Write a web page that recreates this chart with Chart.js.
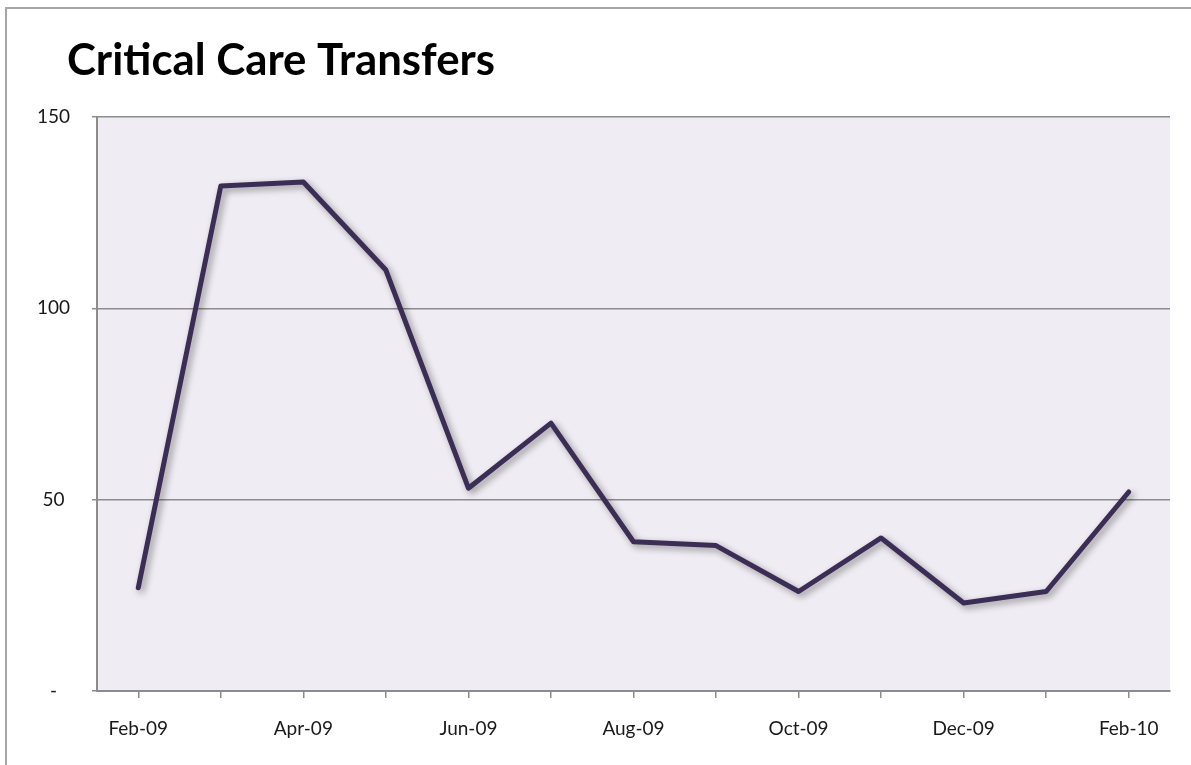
<!DOCTYPE html>
<html>
<head>
<meta charset="utf-8">
<script src="https://cdn.jsdelivr.net/npm/chart.js@4/dist/chart.umd.min.js"></script>
<style>
  html, body { margin: 0; padding: 0; background: #fff; overflow: hidden; }
  #frame { position: absolute; left: 5px; top: 7px; width: 1300px; height: 900px; border: 2px solid #a6a6a6; }
  #wrap { position: absolute; left: 0; top: 0; width: 1191px; height: 765px; }
</style>
</head>
<body>
<div id="frame"></div>
<div id="wrap"><canvas id="transfersChart" width="1191" height="765"></canvas></div>
<script>
// Monthly critical care transfers
const months = ["Feb-09", "Mar-09", "Apr-09", "May-09", "Jun-09", "Jul-09", "Aug-09",
  "Sep-09", "Oct-09", "Nov-09", "Dec-09", "Jan-10", "Feb-10"];
const transfers = [27, 132, 133, 110, 53, 70, 39, 38, 26, 40, 23, 26, 52];
const yTicks = [0, 50, 100, 150];
const chartTitle = "Critical Care Transfers";

// Plot background + title drawn on the canvas
const decorPlugin = {
  id: "decor",
  beforeDraw(chart) {
    const { ctx, chartArea } = chart;
    ctx.save();
    ctx.fillStyle = "#efedf3";
    ctx.fillRect(chartArea.left, chartArea.top, chartArea.right - chartArea.left, chartArea.bottom - chartArea.top);
    ctx.restore();
  },
  afterDraw(chart) {
    const ctx = chart.ctx;
    ctx.save();
    ctx.font = "bold 40px Lato";
    const w = ctx.measureText(chartTitle).width;
    const size = 40 * 428 / w;
    ctx.font = "bold " + size + "px Lato";
    ctx.fillStyle = "#000";
    ctx.textBaseline = "alphabetic";
    ctx.fillText(chartTitle, 67, 75);
    ctx.restore();
  },
  beforeDatasetsDraw(chart) {
    const ctx = chart.ctx;
    ctx.save();
    ctx.shadowColor = "rgba(0, 0, 0, 0.4)";
    ctx.shadowBlur = 7;
    ctx.shadowOffsetX = 3;
    ctx.shadowOffsetY = 3;
  },
  afterDatasetsDraw(chart) {
    chart.ctx.restore();
  }
};

const ctx = document.getElementById("transfersChart").getContext("2d");
const transfersChart = new Chart(ctx, {
  type: "line",
  data: {
    labels: months,
    datasets: [
      {
        label: "Transfers",
        data: transfers,
        borderColor: "#3b2d55",
        borderWidth: 5,
        borderJoinStyle: "round",
        borderCapStyle: "round",
        pointRadius: 0,
        tension: 0,
        fill: false
      }
    ]
  },
  options: {
    responsive: false,
    animation: false,
    layout: { padding: { top: 117, right: 21, left: 0, bottom: 0 } },
    scales: {
      x: {
        offset: true,
        grid: {
          offset: false,
          drawOnChartArea: false,
          drawTicks: true,
          tickLength: 7,
          color: "#8c8c8c",
          lineWidth: 1.5
        },
        border: { display: true, color: "#8c8c8c", width: 2 },
        ticks: {
          autoSkip: false,
          maxRotation: 0,
          padding: 19,
          color: "#1a1a1a",
          font: { family: "Lato", size: 19 },
          callback: function (value, index) {
            return index % 2 === 0 ? months[index] : "";
          }
        },
        afterFit: function (scale) { scale.height = 74; }
      },
      y: {
        min: 0,
        max: 150,
        afterBuildTicks: function (scale) {
          scale.ticks = yTicks.map(v => ({ value: v }));
        },
        grid: {
          color: "#8c8c8c",
          lineWidth: 1.5,
          tickLength: 5
        },
        border: { display: true, color: "#8c8c8c", width: 2 },
        ticks: {
          crossAlign: "center",
          padding: 22,
          color: "#1a1a1a",
          font: { family: "Lato", size: 19 },
          callback: function (value) {
            return value === 0 ? "-" : value;
          }
        },
        afterFit: function (scale) { scale.width = 97; }
      }
    },
    plugins: {
      legend: { display: false },
      title: { display: false },
      tooltip: { enabled: false }
    }
  },
  plugins: [decorPlugin]
});
</script>
</body>
</html>
